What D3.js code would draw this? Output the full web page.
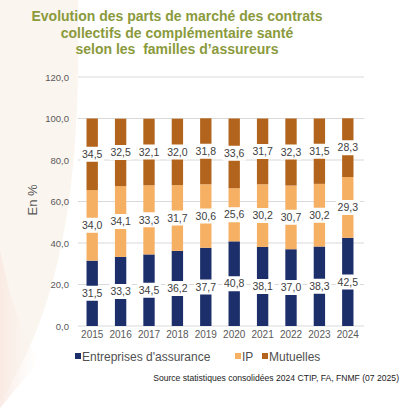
<!DOCTYPE html>
<html><head><meta charset="utf-8">
<script src="https://cdn.jsdelivr.net/npm/d3@7/dist/d3.min.js"></script>
<style>html,body{margin:0;padding:0;background:#fff;}svg{display:block;font-family:"Liberation Sans",Arial,sans-serif;}</style>
</head><body>
<script>
const years = ["2015","2016","2017","2018","2019","2020","2021","2022","2023","2024"];
const entreprises = [31.5,33.3,34.5,36.2,37.7,40.8,38.1,37.0,38.3,42.5];
const ip = [34.0,34.1,33.3,31.7,30.6,25.6,30.2,30.7,30.2,29.3];
const mutuelles = [34.5,32.5,32.1,32.0,31.8,33.6,31.7,32.3,31.5,28.3];
const seriesNames = ["Entreprises d'assurance","IP","Mutuelles"];
const seriesColors = ["#1d2f6a","#f5b064","#b3641c"];
const yTicks = [0,20,40,60,80,100,120];
const titleLines = ["Evolution des parts de marché des contrats","collectifs de complémentaire santé","selon les  familles d’assureurs"];
const sourceText = "Source statistiques consolidées 2024 CTIP, FA, FNMF (07 2025)";

const W=406,H=408;
const svg=d3.select("body").append("svg").attr("width",W).attr("height",H);

// background shape
svg.append("path").attr("d","M0,0 L78,0 C80,150 72,290 0,402 Z").attr("fill","#fbf5ef");
const grad=svg.append("defs").append("linearGradient").attr("id","lg").attr("x1",0).attr("x2",1).attr("y1",0).attr("y2",0);
grad.append("stop").attr("offset","0%").attr("stop-color","#f9e9e2").attr("stop-opacity",0.9);
grad.append("stop").attr("offset","100%").attr("stop-color","#fbf5ef").attr("stop-opacity",0);
svg.append("path").attr("d","M0,250 C10,300 25,340 40,360 L0,408 Z").attr("fill","url(#lg)");

// title
svg.append("g").selectAll("text").data(titleLines).join("text")
  .attr("x",177).attr("y",(d,i)=>21+i*16.5).attr("text-anchor","middle")
  .style("white-space","pre")
  .attr("font-size",14).attr("font-weight","bold").attr("fill","#8a9a3c").text(d=>d);

const x=d3.scaleBand().domain(years).range([78,362]).paddingInner(0.6).paddingOuter(0.3);
const y=d3.scaleLinear().domain([0,120]).range([326,77]);

// gridlines
svg.append("g").selectAll("line").data(yTicks).join("line")
  .attr("x1",78).attr("x2",364).attr("y1",d=>y(d)).attr("y2",d=>y(d))
  .attr("stroke","#d9d9d9").attr("stroke-width",1);

// y axis labels
const fmt=d=>d3.format(".1f")(d).replace(".",",");
const yAxis=d3.axisLeft(y).tickValues(yTicks).tickFormat(fmt).tickSize(0).tickPadding(0);
const ya=svg.append("g").attr("transform","translate(69,0)").call(yAxis);
ya.select(".domain").remove();
ya.selectAll("text").attr("font-size",9.5).attr("fill","#595959").attr("font-family","Liberation Sans, Arial, sans-serif");

// x axis
const xAxis=d3.axisBottom(x).tickSize(0).tickPadding(0);
const xa=svg.append("g").attr("transform","translate(0,331)").call(xAxis);
xa.select(".domain").remove();
xa.selectAll("text").attr("font-size",10).attr("fill","#595959").attr("font-family","Liberation Sans, Arial, sans-serif");

// y title
svg.append("text").attr("transform","translate(37,200) rotate(-90)").attr("text-anchor","middle")
  .attr("font-size",13).attr("fill","#595959").text("En %");

// stacked data
const rows=years.map((yr,i)=>({year:yr,s0:entreprises[i],s1:ip[i],s2:mutuelles[i]}));
const stack=d3.stack().keys(["s0","s1","s2"])(rows);
const g=svg.append("g");
stack.forEach((layer,li)=>{
  g.append("g").selectAll("rect").data(layer).join("rect")
    .attr("x",d=>x(d.data.year)).attr("width",x.bandwidth())
    .attr("y",d=>y(d[1])).attr("height",d=>y(d[0])-y(d[1]))
    .attr("fill",seriesColors[li]);
});
// labels
const lg=svg.append("g");
stack.forEach((layer,li)=>{
  layer.forEach(d=>{
    const cx=x(d.data.year)+x.bandwidth()/2, cy=y((d[0]+d[1])/2);
    const v=d[1]-d[0];
    lg.append("rect").attr("x",cx-12).attr("y",cy-7.5).attr("width",24).attr("height",15).attr("rx",2).attr("fill","#fff");
    lg.append("text").attr("x",cx).attr("y",cy+3.7).attr("text-anchor","middle").attr("font-size",10.5)
      .attr("fill","#404040").text(fmt(v));
  });
});

// legend
const legItems=[{x:75,tx:82},{x:235,tx:242},{x:262,tx:269}];
const leg=svg.append("g");
seriesNames.forEach((n,i)=>{
  leg.append("rect").attr("x",legItems[i].x).attr("y",353).attr("width",6).attr("height",6).attr("fill",seriesColors[i]);
  leg.append("text").attr("x",legItems[i].tx).attr("y",360.5).attr("font-size",12).attr("fill","#505050").text(n);
});

// source
svg.append("text").attr("x",399).attr("y",381).attr("text-anchor","end").attr("font-size",8.6).attr("fill","#222").text(sourceText);
</script>
</body></html>
